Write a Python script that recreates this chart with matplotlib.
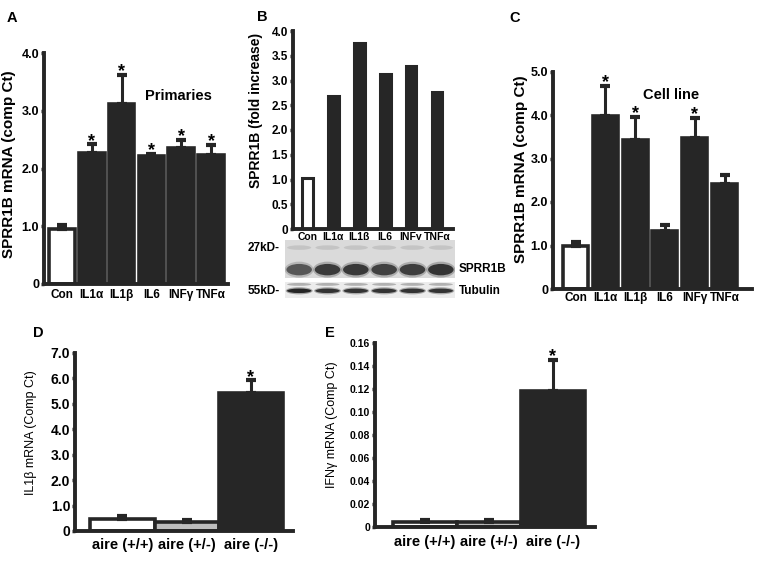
import numpy as np
import matplotlib
matplotlib.use('Agg')
import matplotlib.pyplot as plt
from matplotlib.patches import Ellipse
from matplotlib.ticker import FuncFormatter

plt.rcParams['font.family'] = ['Liberation Sans', 'DejaVu Sans']
plt.rcParams['font.weight'] = 'bold'
plt.rcParams['axes.labelweight'] = 'bold'

# ---- data ----
treat = ['Con', 'IL1α', 'IL1β', 'IL6', 'INFγ', 'TNFα']

prim_mean = [0.95, 2.27, 3.12, 2.22, 2.36, 2.23]
prim_err = [0.07, 0.15, 0.50, 0.03, 0.14, 0.18]
prim_sig = [False, True, True, True, True, True]

fold = [1.03, 2.68, 3.75, 3.13, 3.30, 2.76]
sprr_band = [0.70, 0.90, 0.92, 0.85, 0.88, 0.95]
tub_band = [0.95, 0.85, 0.85, 0.85, 0.85, 0.85]

cell_mean = [0.99, 3.98, 3.42, 1.34, 3.47, 2.42]
cell_err = [0.08, 0.69, 0.53, 0.12, 0.47, 0.21]
cell_sig = [False, True, True, False, True, False]

aire = ['aire (+/+)', 'aire (+/-)', 'aire (-/-)']
il1b_mean = [0.46, 0.35, 5.42]
il1b_err = [0.12, 0.08, 0.50]
ifng_mean = [0.004, 0.004, 0.118]
ifng_err = [0.0015, 0.0015, 0.027]
aire_sig = [False, False, True]

dark = '#262626'
W, H = 762, 561


def box(x0, y0, x1, y1):
    return [x0 / W, 1 - y1 / H, (x1 - x0) / W, (y1 - y0) / H]


def style(ax, ymax, step, fmt, ysize=9, xsize=8.5, xpad=3.5):
    for s in ['top', 'right']:
        ax.spines[s].set_visible(False)
    for s in ['left', 'bottom']:
        ax.spines[s].set_linewidth(2.8)
        ax.spines[s].set_color(dark)
    ax.set_ylim(0, ymax)
    ax.set_yticks(np.arange(0, ymax + step / 2, step))
    ax.yaxis.set_major_formatter(FuncFormatter(lambda v, p: '0' if abs(v) < 1e-9 else fmt % v))
    ax.tick_params(axis='y', length=2.5, width=2.5, pad=1, labelsize=ysize, color=dark)
    ax.tick_params(axis='x', length=0, pad=xpad, labelsize=xsize)


def bars(ax, x, mean, err, faces, width, sig, star=13):
    ax.bar(x, mean, width, color=faces, edgecolor=dark, linewidth=2.6, zorder=2)
    ax.errorbar(x, mean, yerr=[np.zeros(len(x)), err], fmt='none', ecolor=dark,
                elinewidth=2.2, capsize=3.4, capthick=3, zorder=3)
    for xi, m, e, s in zip(x, mean, err, sig):
        if s:
            ax.annotate('*', (xi, m + e), xytext=(0, -1.0), textcoords='offset points',
                        ha='center', va='baseline', fontsize=star, annotation_clip=False)


fig = plt.figure(figsize=(7.62, 5.61), dpi=100)

# A - primaries
axA = fig.add_axes(box(44, 53, 228, 284))
x6 = np.arange(6)
faces6 = ['white'] + [dark] * 5
bars(axA, x6, prim_mean, prim_err, faces6, 0.86, prim_sig)
style(axA, 4.0, 1.0, '%.1f')
axA.set_xlim(-0.6, 5.57)
axA.set_xticks(x6)
axA.set_xticklabels(treat)
axA.set_ylabel('SPRR1B mRNA (comp Ct)', fontsize=11)
axA.yaxis.set_label_coords(-0.15, 0.52)
axA.text(0.73, 0.815, 'Primaries', transform=axA.transAxes, ha='center', va='center', fontsize=10.5)

# B - densitometry of western
axB = fig.add_axes(box(293, 31, 453, 229))
axB.bar(x6, fold, 0.42, color=faces6, edgecolor=dark, linewidth=2.2, zorder=2)
style(axB, 4.0, 0.5, '%.1f', ysize=8.5, xsize=7.5, xpad=2)
axB.set_xlim(-0.56, 5.62)
axB.set_xticks(x6)
axB.set_xticklabels(treat)
axB.set_ylabel('SPRR1B (fold increase)', fontsize=10)
axB.yaxis.set_label_coords(-0.19, 0.6)

# blot strips
blot1 = fig.add_axes(box(285, 240, 455, 278))
blot2 = fig.add_axes(box(285, 282, 455, 298))
blot1.set_facecolor('#dadada')
blot2.set_facecolor('#ececec')
for bx in [blot1, blot2]:
    bx.set_xlim(-0.5, 5.5)
    bx.set_ylim(0, 1)
    bx.set_xticks([])
    bx.set_yticks([])
    for s in bx.spines.values():
        s.set_visible(False)
for i in range(6):
    blot1.add_patch(Ellipse((i, 0.80), 0.85, 0.12, color='#b0b0b0', alpha=0.5, lw=0))
    blot1.add_patch(Ellipse((i, 0.22), 1.02, 0.42, color='#707070', alpha=0.5 * sprr_band[i], lw=0))
    blot1.add_patch(Ellipse((i, 0.22), 0.9, 0.3, color='#2e2e2e', alpha=sprr_band[i], lw=0))
    blot2.add_patch(Ellipse((i, 0.85), 0.85, 0.18, color='#8a8a8a', alpha=0.6, lw=0))
    blot2.add_patch(Ellipse((i, 0.45), 0.95, 0.45, color='#555555', alpha=0.5 * tub_band[i], lw=0))
    blot2.add_patch(Ellipse((i, 0.45), 0.86, 0.28, color='#1e1e1e', alpha=tub_band[i], lw=0))
fig.text(264 / W, 1 - 248 / H, '27kD-', ha='center', va='center', fontsize=8.5)
fig.text(264 / W, 1 - 291 / H, '55kD-', ha='center', va='center', fontsize=8.5)
fig.text(459 / W, 1 - 269 / H, 'SPRR1B', ha='left', va='center', fontsize=8.5)
fig.text(459 / W, 1 - 291 / H, 'Tubulin', ha='left', va='center', fontsize=8.5)

# C - cell line
axC = fig.add_axes(box(553, 71.5, 752, 289))
bars(axC, x6, cell_mean, cell_err, faces6, 0.84, cell_sig)
style(axC, 5.0, 1.0, '%.1f', xpad=2)
axC.set_xlim(-0.755, 5.92)
axC.set_xticks(x6)
axC.set_xticklabels(treat)
axC.set_ylabel('SPRR1B mRNA (comp Ct)', fontsize=11)
axC.yaxis.set_label_coords(-0.126, 0.55)
axC.text(0.593, 0.892, 'Cell line', transform=axC.transAxes, ha='center', va='center', fontsize=10.5)

# D - IL1b in aire mice
x3 = np.arange(3)
faces3 = ['white', '#bdbdbd', dark]
axD = fig.add_axes(box(75, 353, 293, 531))
bars(axD, x3, il1b_mean, il1b_err, faces3, 1.0, aire_sig)
style(axD, 7.0, 1.0, '%.1f', ysize=10, xsize=10.5, xpad=5)
axD.set_xlim(-0.74, 2.66)
axD.set_xticks(x3)
axD.set_xticklabels(aire)
axD.set_ylabel('IL1β mRNA (Comp Ct)', fontsize=9, fontweight='normal')
axD.yaxis.set_label_coords(-0.174, 0.55)

# E - IFNg in aire mice
axE = fig.add_axes(box(375, 342.7, 595, 526.7))
bars(axE, x3, ifng_mean, ifng_err, faces3, 1.0, aire_sig)
style(axE, 0.16, 0.02, '%.2f', ysize=7.5, xsize=10.5, xpad=6)
axE.set_xlim(-0.78, 2.66)
axE.set_xticks(x3)
axE.set_xticklabels(aire)
axE.set_ylabel('IFNγ mRNA (Comp Ct)', fontsize=9, fontweight='normal')
axE.yaxis.set_label_coords(-0.168, 0.554)

# panel letters
for lab, px, py in [('A', 12, 18), ('B', 262, 17), ('C', 515, 18), ('D', 38, 333), ('E', 330, 333)]:
    fig.text(px / W, 1 - py / H, lab, ha='center', va='center', fontsize=10.5)

fig.savefig('out.png', dpi=100)
